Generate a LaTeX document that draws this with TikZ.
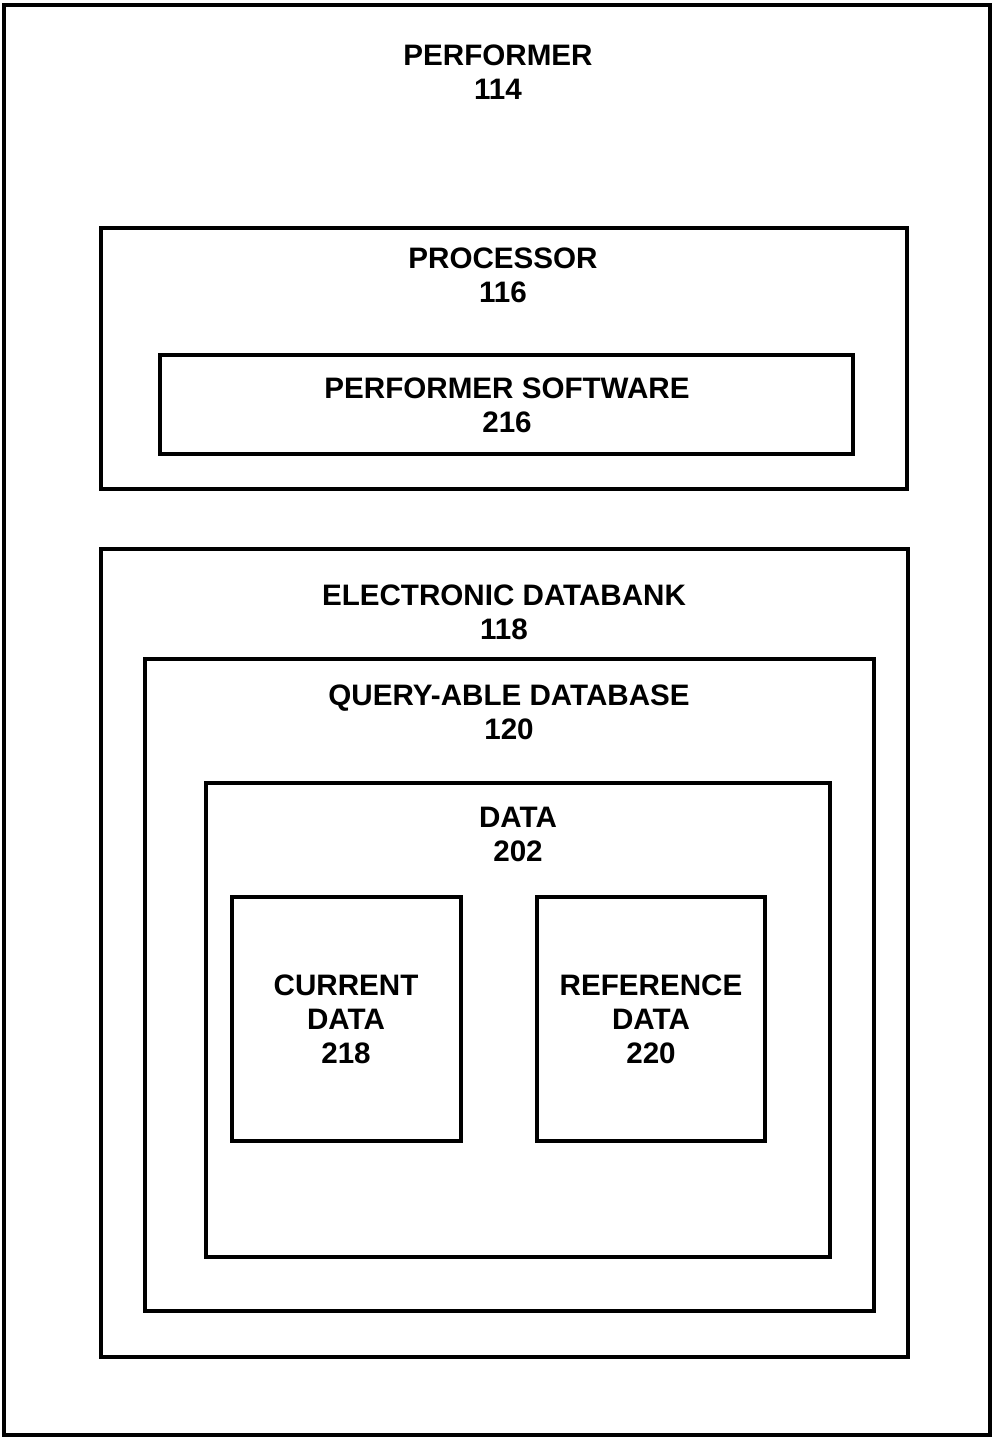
\documentclass[tikz,border=0pt]{standalone}
\usepackage{fontspec}
\setmainfont{Liberation Sans}
\begin{document}
\begin{tikzpicture}[x=1pt,y=-1pt,
  box/.style={draw=black,line width=3.5pt,inner sep=0pt,fill=none},
  lbl/.style={font=\fontsize{29.6}{34}\selectfont\bfseries,align=center,inner sep=0pt,text=black}]
\useasboundingbox (0,0) rectangle (994,1439);
\fill[white] (0,0) rectangle (994,1439);
% boxes
\draw[box] (4,5) rectangle (990,1435);
\draw[box] (101,228) rectangle (907,489);
\draw[box] (160,355) rectangle (853,454);
\draw[box] (101,549) rectangle (908,1357);
\draw[box] (145,659) rectangle (874,1311);
\draw[box] (206,783) rectangle (830,1257);
\draw[box] (232,897) rectangle (461,1141);
\draw[box] (537,897) rectangle (765,1141);
% labels
\node[lbl] (performer) at (498,72) {PERFORMER\\114};
\node[lbl] (processor) at (503,275) {PROCESSOR\\116};
\node[lbl] (software) at (507,405) {PERFORMER SOFTWARE\\216};
\node[lbl] (databank) at (504,612) {ELECTRONIC DATABANK\\118};
\node[lbl] (query) at (509,712) {QUERY-ABLE DATABASE\\120};
\node[lbl] (data) at (518,834) {DATA\\202};
\node[lbl] (current) at (346,1019) {CURRENT\\DATA\\218};
\node[lbl] (reference) at (651,1019) {REFERENCE\\DATA\\220};
\end{tikzpicture}
\end{document}
